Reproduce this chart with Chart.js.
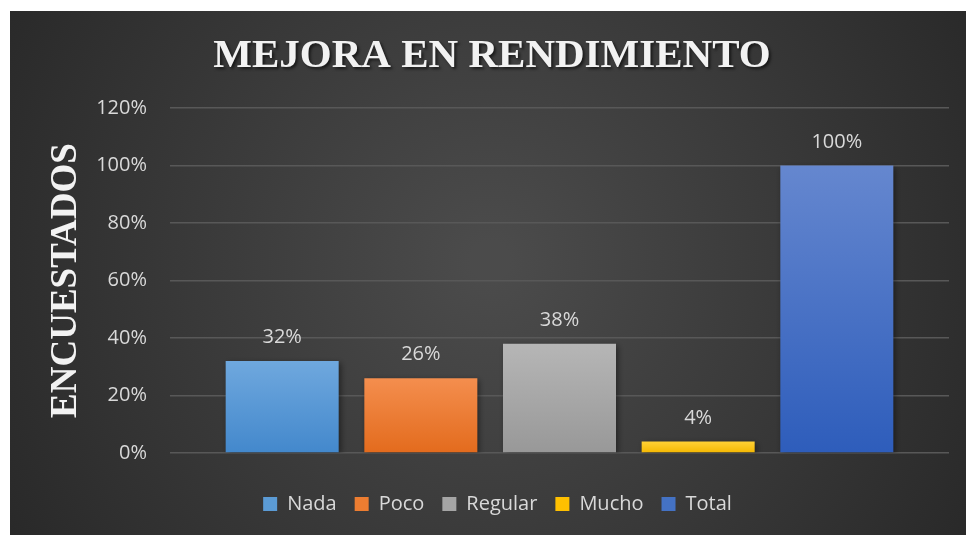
<!DOCTYPE html>
<html>
<head>
<meta charset="utf-8">
<script src="https://cdn.jsdelivr.net/npm/chart.js@4"></script>
<style>
    html, body { margin: 0; padding: 0; background: #ffffff; }
    #wrap { position: absolute; left: 10px; top: 11px; width: 956px; height: 524px; }
</style>
</head>
<body>
<div id="wrap"><canvas id="grafico"></canvas></div>
<script>
// Datos del gráfico
const categorias = ['Nada', 'Poco', 'Regular', 'Mucho', 'Total'];
const valores = [32, 26, 38, 4, 100];
const ticksY = [0, 20, 40, 60, 80, 100, 120];

// Colores (arriba / abajo del degradado, y leyenda)
const coloresArriba = ['#6fa8de', '#f48e4e', '#b6b6b6', '#ffd136', '#6587cf'];
const coloresAbajo = ['#4388cc', '#e36b1d', '#989898', '#f4b700', '#2e5dbb'];
const coloresLeyenda = ['#5b9bd5', '#ed7d31', '#a5a5a5', '#ffc000', '#4472c4'];

Chart.defaults.font.family = '"Open Sans", "Liberation Sans", sans-serif';

// Fondo con degradado radial
const fondoPlugin = {
    id: 'fondo',
    beforeDraw(chart) {
        const { ctx, width, height } = chart;
        const g = ctx.createRadialGradient(480, 250, 20, 480, 250, 600);
        g.addColorStop(0, '#4b4b4b');
        g.addColorStop(1, '#262626');
        ctx.save();
        ctx.fillStyle = g;
        ctx.fillRect(0, 0, width, height);
        ctx.restore();
    }
};

// Sombra de las barras
const sombraPlugin = {
    id: 'sombra',
    beforeDatasetsDraw(chart) {
        const ctx = chart.ctx;
        ctx.save();
        ctx.shadowColor = 'rgba(0,0,0,0.45)';
        ctx.shadowBlur = 6;
        ctx.shadowOffsetX = 2;
        ctx.shadowOffsetY = 2;
    },
    afterDatasetsDraw(chart) {
        chart.ctx.restore();
    }
};

// Etiquetas de valor y título
const textosPlugin = {
    id: 'textos',
    afterDraw(chart) {
        const ctx = chart.ctx;
        ctx.save();
        ctx.font = '20px "Open Sans", sans-serif';
        ctx.fillStyle = '#d9d9d9';
        ctx.textAlign = 'center';
        ctx.textBaseline = 'alphabetic';
        chart.data.datasets.forEach((ds, i) => {
            const bar = chart.getDatasetMeta(i).data[0];
            if (!bar) return;
            ctx.fillText(ds.data[0] + '%', bar.x, bar.y - 18);
        });

        ctx.font = 'bold 41px "Liberation Serif", "DejaVu Serif", serif';
        ctx.fillStyle = '#f2f2f2';
        ctx.shadowColor = 'rgba(0,0,0,0.6)';
        ctx.shadowBlur = 3;
        ctx.shadowOffsetX = 2;
        ctx.shadowOffsetY = 2;
        ctx.fillText('MEJORA EN RENDIMIENTO', 482, 56);
        ctx.restore();
    }
};

function degradado(i) {
    return function(context) {
        const chart = context.chart;
        const y = chart.scales.y;
        if (!y || !chart.chartArea) return coloresLeyenda[i];
        const top = y.getPixelForValue(valores[i]);
        const base = y.getPixelForValue(0);
        if (!isFinite(top) || top === base) return coloresLeyenda[i];
        const g = chart.ctx.createLinearGradient(0, top, 0, base);
        g.addColorStop(0, coloresArriba[i]);
        g.addColorStop(1, coloresAbajo[i]);
        return g;
    };
}

const datasets = categorias.map((nombre, i) => ({
    label: nombre,
    data: [valores[i]],
    backgroundColor: degradado(i),
    borderWidth: 0,
    categoryPercentage: 0.89,
    barPercentage: 0.815
}));

new Chart(document.getElementById('grafico'), {
    type: 'bar',
    data: {
        labels: [''],
        datasets: datasets
    },
    options: {
        responsive: true,
        maintainAspectRatio: false,
        animation: false,
        layout: {
            padding: { top: 97, right: 17, bottom: 11, left: 36 }
        },
        plugins: {
            title: { display: false },
            tooltip: { enabled: false },
            legend: {
                position: 'bottom',
                labels: {
                    color: '#d9d9d9',
                    font: { size: 20 },
                    boxWidth: 14,
                    boxHeight: 14,
                    padding: 18,
                    generateLabels(chart) {
                        return chart.data.datasets.map((ds, i) => ({
                            text: ds.label,
                            fillStyle: coloresLeyenda[i],
                            strokeStyle: coloresLeyenda[i],
                            lineWidth: 0,
                            fontColor: '#d9d9d9',
                            datasetIndex: i
                        }));
                    }
                }
            }
        },
        scales: {
            x: {
                grid: { display: false },
                border: { display: false },
                ticks: { display: false },
                afterFit(scale) { scale.height = 23; }
            },
            y: {
                min: 0,
                max: 120,
                afterBuildTicks(scale) {
                    scale.ticks = ticksY.map(v => ({ value: v }));
                },
                afterFit(scale) { scale.width = 124; },
                grid: {
                    color: '#585858',
                    lineWidth: 1.5,
                    drawTicks: false
                },
                border: { display: false },
                ticks: {
                    color: '#d9d9d9',
                    font: { size: 20 },
                    padding: 23,
                    callback: v => v + '%'
                },
                title: {
                    display: true,
                    text: 'ENCUESTADOS',
                    color: '#f2f2f2',
                    font: { family: '"Liberation Serif", "DejaVu Serif", serif', size: 37, weight: 'bold', lineHeight: 1 },
                    padding: { top: 1.5, bottom: 0 }
                }
            }
        }
    },
    plugins: [fondoPlugin, sombraPlugin, textosPlugin]
});
</script>
</body>
</html>
